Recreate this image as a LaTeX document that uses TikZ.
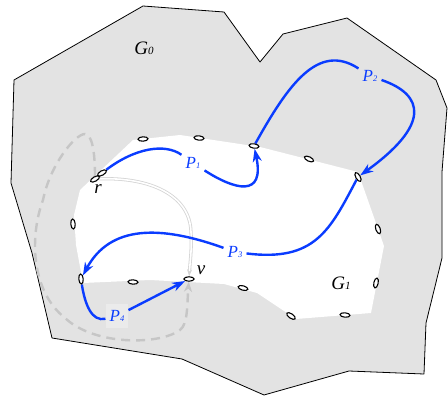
\documentclass[tikz,border=0pt]{standalone}
\usepackage{fontspec}
\setmainfont{Liberation Serif}
\usetikzlibrary{arrows.meta,shapes.geometric}
\definecolor{regiongray}{HTML}{E3E3E3}
\definecolor{boxgray}{HTML}{EBEBEB}
\definecolor{pathblue}{HTML}{0A3CFF}
\definecolor{dashgray}{HTML}{C6C6C6}
\definecolor{dblgray}{HTML}{D4D4D4}
\pgfdeclarelayer{back}
\pgfdeclarelayer{mid}
\pgfsetlayers{back,mid,main}
\begin{document}
\begin{tikzpicture}[x=1pt,y=-1pt,
  vtx/.style={ellipse,draw=black,fill=white,line width=1.1pt,minimum width=10pt,minimum height=4.4pt,inner sep=0pt},
  bluepath/.style={draw=pathblue,line width=2.4pt},
  bluearrow/.style={bluepath,-{Stealth[length=13pt,width=9pt,inset=4pt]}},
  plabel/.style={text=pathblue,font=\fontsize{17}{17}\selectfont\itshape,inner xsep=4pt,inner ysep=6pt},
  glabel/.style={font=\fontsize{19}{19}\selectfont\itshape,inner sep=1pt},
  vlabel/.style={font=\fontsize{19}{19}\selectfont\itshape,inner sep=1pt},
  graydash/.style={draw=dashgray,line width=2.4pt,dash pattern=on 9pt off 6pt,-{Stealth[length=10pt,width=8pt,inset=3pt]}},
  dblline/.style={draw=dblgray,double=white,double distance=1.6pt,line width=0.8pt,-{Stealth[length=7pt,width=5pt]}}]
\useasboundingbox (0,0) rectangle (448,396);
\begin{pgfonlayer}{back}
\fill[white] (0,0) rectangle (448,396);
\draw[fill=regiongray,line width=0.8pt,line join=round]
  (143,6) -- (224,12) -- (260,62) -- (283,34) -- (347,18) -- (436,80) -- (447,108)
  -- (442,172) -- (442,258) -- (426,323) -- (424,374) -- (349,371) -- (264,395)
  -- (182,359) -- (52,338) -- (32,253) -- (11,183) -- (14,80) -- cycle;
\fill[white] (133,140) -- (180,135) -- (260,147) -- (358,172) -- (384,246) -- (371,313)
  -- (296,319) -- (257,293) -- (224,284) -- (150,280) -- (83,283) -- (76,245)
  -- (74,215) -- (80,190) -- cycle;
\end{pgfonlayer}
% vertices
\node[vtx,rotate=3] (e1) at (143,139) {};
\node[vtx,rotate=-6] (e2) at (199,138) {};
\node[vtx,rotate=-8] (e3) at (254,146) {};
\node[vtx,rotate=-25] (e4) at (309,159) {};
\node[vtx,rotate=-60] (e5) at (358,177) {};
\node[vtx,rotate=-70] (e6) at (378,229) {};
\node[vtx,rotate=78] (e7) at (376,283) {};
\node[vtx,rotate=-5] (e8) at (345,315) {};
\node[vtx,rotate=-35] (e9) at (291,316) {};
\node[vtx,rotate=-15] (e10) at (243,288) {};
\node[vtx] (v) at (189,279) {};
\node[vtx,rotate=-3] (e12) at (133,282) {};
\node[vtx,rotate=95] (e13) at (81,279) {};
\node[vtx,rotate=95] (e14) at (73,224) {};
\node[vtx,rotate=30] (r1) at (102,173) {};
\node[vtx,rotate=30] (r2) at (95,179) {};
% text labels
\node[glabel] (g0) at (144,48) {G{\fontsize{11}{11}\selectfont 0}};
\node[glabel] (g1) at (341,283) {G{\fontsize{11}{11}\selectfont 1}};
\node[vlabel] (rl) at (98,189) {r};
\node[vlabel] (vl) at (201,270) {v};
\node[plabel,fill=white] (p1) at (193,163) {P{\fontsize{8.5}{8.5}\selectfont 1}};
\node[plabel,fill=regiongray] (p2) at (370,76) {P{\fontsize{8.5}{8.5}\selectfont 2}};
\node[plabel,fill=white] (p3) at (235,252) {P{\fontsize{8.5}{8.5}\selectfont 3}};
\node[plabel,fill=boxgray] (p4) at (117,316) {P{\fontsize{8.5}{8.5}\selectfont 4}};
\begin{pgfonlayer}{mid}
% gray connectors
\draw[dblline] (r2) .. controls (150,177) and (190,195) .. (191,232)
  .. controls (192,250) and (190,262) .. (v);
\draw[graydash] (r2) .. controls (95,152) and (92,134) .. (85,134)
  .. controls (75,134) and (50,165) .. (43,200)
  .. controls (30,235) and (30,290) .. (65,318)
  .. controls (95,346) and (160,345) .. (180,330)
  .. controls (188,324) and (187,305) .. (v);
% P1
\draw[bluepath] (r1) .. controls (135,148) and (165,143) .. (p1);
\draw[bluearrow] (p1) .. controls (235,190) and (265,198) .. (e3);
% P2
\draw[bluepath] (e3) .. controls (288,85) and (318,42) .. (p2);
\draw[bluearrow] (p2) .. controls (425,95) and (430,125) .. (e5);
% P3
\draw[bluepath] (e5) .. controls (330,230) and (315,262) .. (p3);
\draw[bluearrow] (p3) .. controls (160,225) and (110,225) .. (e13);
% P4
\draw[bluepath] (e13) .. controls (85,305) and (92,322) .. (p4);
\draw[bluearrow] (p4) -- (v);
\end{pgfonlayer}
\end{tikzpicture}
\end{document}
